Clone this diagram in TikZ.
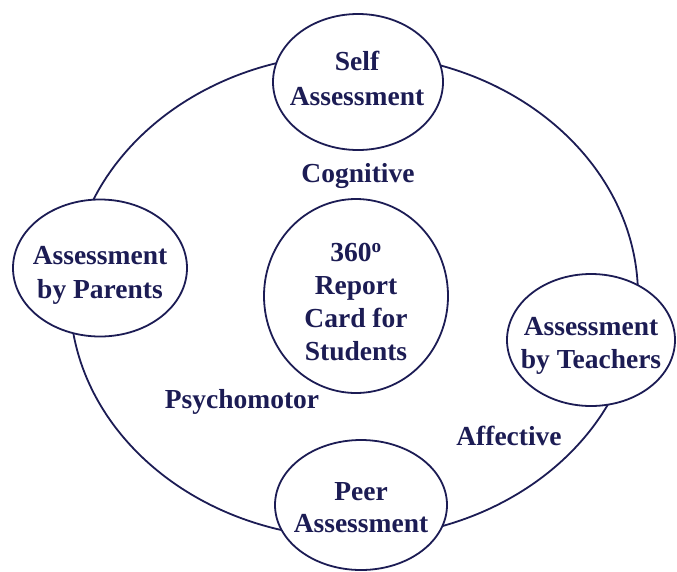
\documentclass[tikz,border=0pt]{standalone}
\usepackage{fontspec}
\setmainfont{Liberation Serif}
\usetikzlibrary{shapes.geometric}
\definecolor{ink}{RGB}{28,28,84}
\begin{document}
\begin{tikzpicture}[x=1pt,y=-1pt,
  bub/.style={ellipse, draw=ink, line width=1.8pt, fill=white, inner sep=0pt},
  txt/.style={text=ink, align=center, inner sep=0pt, font=\bfseries\fontsize{27.5}{32}\selectfont},
  lbl/.style={text=ink, anchor=base, inner sep=0pt, font=\bfseries\fontsize{27.5}{32}\selectfont}]
\useasboundingbox (0,0) rectangle (677,571);
\draw[ink, line width=1.8pt] (354,296) ellipse [x radius=284, y radius=242];
\node[bub, minimum width=170pt, minimum height=136pt] (self) at (358,82) {};
\node[bub, minimum width=174pt, minimum height=137pt] (parents) at (100,268) {};
\node[bub, minimum width=184pt, minimum height=194pt] (center) at (356,296) {};
\node[bub, minimum width=168pt, minimum height=132pt] (teachers) at (591,340) {};
\node[bub, minimum width=172pt, minimum height=130pt] (peer) at (361,505) {};
\node[txt] (selft) at (357,78.5) {Self\\[3pt]Assessment};
\node[txt] (parentst) at (100,275) {Assessment\\[2pt]by Parents};
\node[txt] (centert) at (356,302) {360\textsuperscript{o}\\[1pt]Report\\[1pt]Card for\\[1pt]Students};
\node[txt] (teacherst) at (591,346) {Assessment\\[1pt]by Teachers};
\node[txt] (peert) at (361,507.5) {Peer\\Assessment};
\node[lbl] (cog) at (358,182) {Cognitive};
\node[lbl] (psy) at (242,408) {Psychomotor};
\node[lbl] (aff) at (509,445) {Affective};
\end{tikzpicture}
\end{document}
